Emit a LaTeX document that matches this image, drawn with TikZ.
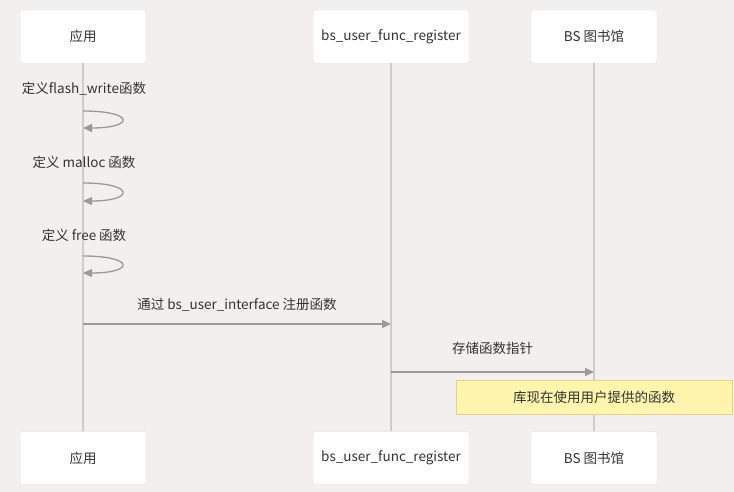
\documentclass[tikz,border=0pt]{standalone}
\usepackage{fontspec}
\setmainfont{Noto Sans CJK SC}
\usetikzlibrary{arrows.meta}
\definecolor{bgcol}{HTML}{F2F0EF}
\definecolor{boxline}{HTML}{DADADA}
\definecolor{lifegray}{HTML}{CCCCCC}
\definecolor{arrgray}{HTML}{999999}
\definecolor{txt}{HTML}{333333}
\definecolor{notefill}{HTML}{FFF5AD}
\definecolor{noteline}{HTML}{E6D280}
\begin{document}
\begin{tikzpicture}[
    x=1pt, y=-1pt,
    actor/.style={draw=boxline, fill=white, rounded corners=2pt, minimum width=#1,
                  minimum height=53pt, text=txt, font=\fontsize{13.5}{15}\selectfont},
    life/.style={draw=lifegray, line width=1.6pt},
    msg/.style={draw=arrgray, line width=1.3pt, -{Triangle[length=9pt,width=8pt]}},
    lbl/.style={text=txt, font=\fontsize{13.5}{15}\selectfont},
    note/.style={draw=noteline, fill=notefill, minimum width=276pt, minimum height=34pt,
                 text=txt, font=\fontsize{13.5}{15}\selectfont},
]
\fill[bgcol] (0,0) rectangle (734,492);
\useasboundingbox (0,0) rectangle (734,492);

% participants
\node[actor=126pt] (appT) at (83,36.5)  {应用};
\node[actor=156pt] (regT) at (391,36.5) {bs\_user\_func\_register};
\node[actor=126pt] (libT) at (594,36.5) {BS 图书馆};
\node[actor=126pt] (appB) at (83,458)   {应用};
\node[actor=156pt] (regB) at (391,458)  {bs\_user\_func\_register};
\node[actor=126pt] (libB) at (594,458)  {BS 图书馆};

\draw[life] (appT) -- (appB);
\draw[life] (regT) -- (regB);
\draw[life] (libT) -- (libB);

% self calls
\node[lbl] (def1) at (84,89)  {定义flash\_write函数};
\node[lbl] (def2) at (84,162) {定义 malloc 函数};
\node[lbl] (def3) at (84,235) {定义 free 函数};
\coordinate (s1a) at (83,111); \coordinate (s1b) at (83,128);
\coordinate (s2a) at (83,183); \coordinate (s2b) at (83,201);
\coordinate (s3a) at (83,256); \coordinate (s3b) at (83,273);
\draw[msg] (s1a) .. controls +(52,0) and +(52,0) .. (s1b);
\draw[msg] (s2a) .. controls +(52,0) and +(52,0) .. (s2b);
\draw[msg] (s3a) .. controls +(52,0) and +(52,0) .. (s3b);

% messages
\coordinate (m1s) at (83,324);  \coordinate (m1e) at (391,324);
\coordinate (m2s) at (391,372); \coordinate (m2e) at (594,372);
\draw[msg] (m1s) -- node[lbl, above=9pt] (reg) {通过 bs\_user\_interface 注册函数} (m1e);
\draw[msg] (m2s) -- node[lbl, above=13pt] (store) {存储函数指针} (m2e);

\node[note] (used) at (594,397.5) {库现在使用用户提供的函数};
\end{tikzpicture}
\end{document}
